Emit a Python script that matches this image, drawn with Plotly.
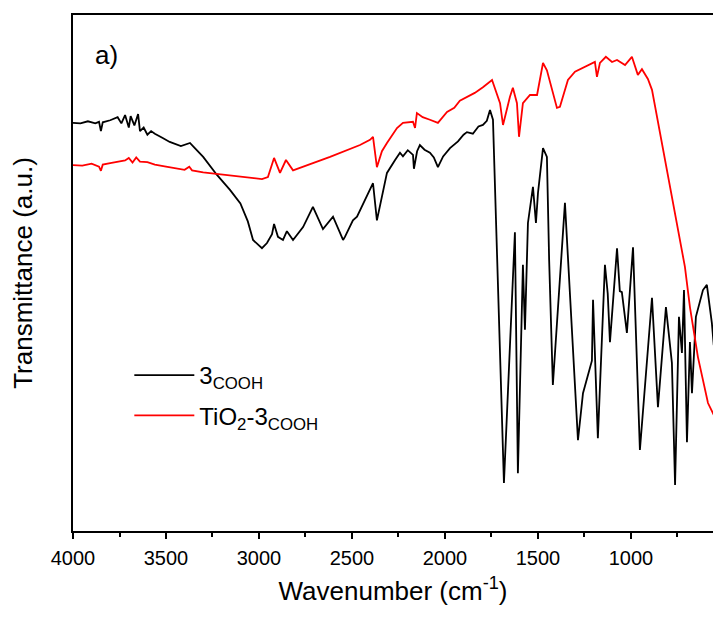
import plotly.graph_objects as go

# ---- data (wavenumber in cm-1, transmittance in arbitrary units) ----
wn_3cooh = [4000, 3960, 3920, 3880, 3860, 3850, 3840, 3800, 3760, 3740, 3720, 3700, 3690,
            3670, 3650, 3640, 3620, 3600, 3580, 3560, 3520, 3480, 3420, 3371, 3350, 3300,
            3226, 3156, 3100, 3060, 3032, 2984, 2957, 2930, 2919, 2898, 2871, 2850, 2817,
            2763, 2710, 2656, 2602, 2548, 2538, 2495, 2473, 2387, 2366, 2339, 2312, 2270,
            2242, 2226, 2200, 2172, 2167, 2150, 2135, 2110, 2081, 2060, 2038, 2010, 1973,
            1930, 1900, 1882, 1850, 1820, 1796, 1775, 1758, 1742, 1683, 1624, 1608, 1581,
            1570, 1554, 1527, 1511, 1500, 1473, 1452, 1440, 1420, 1355, 1312, 1285, 1258,
            1221, 1210, 1204, 1178, 1140, 1125, 1113, 1075, 1060, 1049, 1022, 989, 952,
            887, 855, 812, 780, 763, 742, 726, 715, 699, 683, 672, 651, 613, 592, 565, 555]
t_3cooh = [79.1, 79.0, 79.4, 79.0, 79.3, 77.5, 79.2, 79.6, 80.2, 79.0, 80.6, 78.2, 80.4,
           78.6, 80.8, 77.5, 78.2, 76.8, 77.5, 77.0, 76.2, 75.4, 74.6, 75.2, 74.4, 72.5,
           69.0, 66.1, 63.5, 60.0, 56.4, 54.8, 55.8, 57.5, 59.5, 57.0, 56.4, 58.1, 56.4,
           58.9, 62.8, 58.5, 60.9, 56.4, 57.0, 60.2, 60.9, 67.4, 60.2, 64.7, 69.4, 71.8,
           73.3, 72.6, 73.8, 72.9, 70.2, 73.6, 74.8, 73.9, 73.3, 72.4, 70.5, 72.6, 74.2,
           75.5, 76.8, 77.3, 77.0, 78.4, 78.7, 79.5, 81.6, 79.7, 9.3, 57.9,
           11.2, 51.6, 39.0, 59.7, 66.7, 59.7, 65.5, 74.2, 72.5, 52.5, 28.3, 63.6, 35.1,
           17.6, 26.7, 31.8, 33.0, 44.8, 18.0, 51.6, 46.0, 36.6, 54.8, 46.5, 46.3, 38.4,
           55.0, 15.7, 45.2, 24.0, 43.4, 32.6, 8.9, 41.5, 34.5, 46.7, 17.2, 36.6, 26.7,
           41.5, 46.7, 47.7, 40.3, 36.0]

wn_tio2 = [4000, 3950, 3900, 3860, 3850, 3840, 3800, 3760, 3720, 3700, 3680, 3660, 3640,
           3600, 3560, 3500, 3440, 3400, 3375, 3360, 3300, 3226, 3048, 2984, 2952, 2919,
           2887, 2855, 2817, 2618, 2457, 2403, 2387, 2366, 2339, 2312, 2258, 2226, 2172,
           2161, 2151, 2120, 2081, 2038, 1989, 1950, 1920, 1882, 1840, 1796, 1747, 1704,
           1688, 1651, 1635, 1613, 1602, 1581, 1543, 1505, 1473, 1452, 1420, 1398, 1382,
           1339, 1301, 1247, 1194, 1183, 1167, 1135, 1102, 1075, 1032, 995, 963, 941, 909,
           887, 844, 780, 710, 683, 640, 586, 565, 555]
t_tio2 = [70.9, 70.8, 71.2, 70.6, 69.8, 71.0, 71.3, 71.6, 71.8, 72.3, 71.4, 72.4, 71.6,
          71.5, 71.0, 70.6, 70.3, 70.0, 70.6, 69.9, 69.5, 69.2, 68.4, 68.2, 68.6, 72.3,
          69.4, 71.9, 69.9, 72.5, 74.8, 75.8, 76.4, 70.5, 73.6, 75.2, 78.1, 79.1, 79.3,
          78.1, 81.0, 80.2, 79.7, 79.1, 81.2, 82.0, 83.4, 84.1, 84.9, 86.0, 87.4, 82.9,
          78.7, 84.1, 85.9, 82.9, 76.4, 82.9, 84.5, 84.5, 90.7, 89.3, 84.9, 82.0, 82.2,
          87.4, 89.0, 89.9, 90.9, 88.0, 90.7, 91.9, 90.9, 91.3, 90.3, 91.9, 88.4, 89.5,
          87.6, 85.5, 77.1, 64.1, 51.2, 43.4, 33.7, 24.8, 23.4, 22.5]

series_names = ["3<sub>COOH</sub>", "TiO<sub>2</sub>-3<sub>COOH</sub>"]
x_ticks = [4000, 3500, 3000, 2500, 2000, 1500, 1000]

FONT = "Arial, Liberation Sans, sans-serif"

fig = go.Figure()
fig.add_trace(go.Scatter(x=wn_3cooh, y=t_3cooh, mode="lines", name=series_names[0],
                         legendgroup="a", line=dict(color="black", width=1.8)))
fig.add_trace(go.Scatter(x=wn_tio2, y=t_tio2, mode="lines", name=series_names[1],
                         legendgroup="b", line=dict(color="#ff0000", width=1.8)))

fig.update_layout(
    width=713, height=617,
    margin=dict(l=73, r=0, t=15, b=86),
    plot_bgcolor="white", paper_bgcolor="white",
    font=dict(family=FONT, color="black"),
    showlegend=True,
    legend=dict(x=0.088, y=0.345, xanchor="left", yanchor="top",
                bgcolor="rgba(0,0,0,0)", font=dict(size=24, family=FONT),
                tracegroupgap=6, itemwidth=60),
    annotations=[dict(text="a)", x=0.032, y=0.955, xref="paper", yref="paper",
                      xanchor="left", yanchor="top", showarrow=False,
                      font=dict(size=26, family=FONT))],
)
fig.update_xaxes(
    range=[4000, 559], tickvals=x_ticks, ticks="outside", ticklen=6, tickwidth=1.5,
    tickcolor="black", showline=True, linecolor="black", linewidth=2, mirror=True,
    showgrid=False, zeroline=False, tickfont=dict(size=20, family=FONT),
    ticklabelstandoff=2,
    minor=dict(ticks="outside", ticklen=4, tickwidth=1.5, tickcolor="black", dtick=250, showgrid=False),
    title=dict(text="Wavenumber (cm<sup>-1</sup>)", font=dict(size=26, family=FONT), standoff=14),
)
fig.update_yaxes(
    range=[0, 100], showticklabels=False, ticks="", showline=True, linecolor="black",
    linewidth=2, mirror=False, showgrid=False, zeroline=False,
    title=dict(text="Transmittance (a.u.)", font=dict(size=26, family=FONT), standoff=31),
)

fig.write_html("out.html")
